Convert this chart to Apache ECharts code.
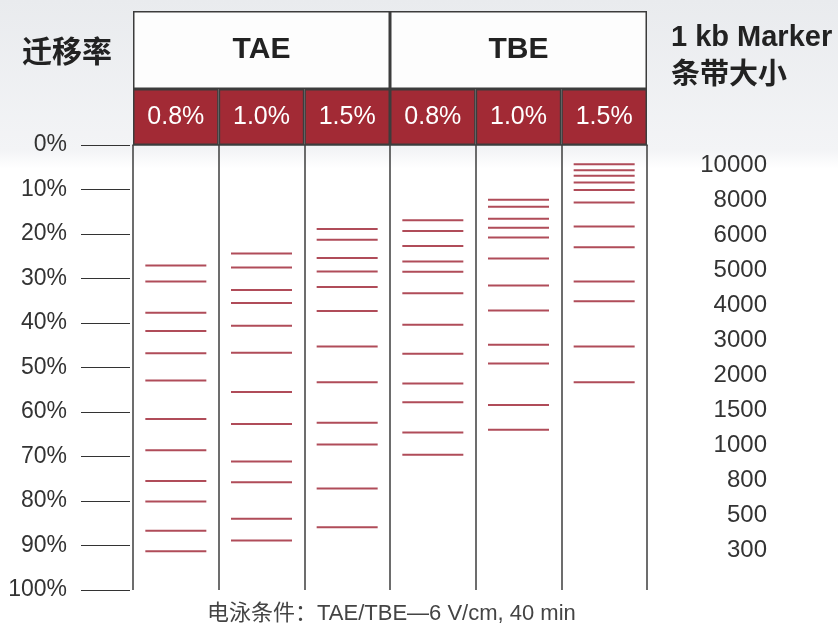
<!DOCTYPE html>
<html>
<head>
<meta charset="utf-8">
<script src="https://cdn.jsdelivr.net/npm/echarts@6/dist/echarts.min.js"></script>
<style>
  html, body { margin: 0; padding: 0; }
  #chart { width: 838px; height: 624px; }
</style>
</head>
<body>
<div id="chart"></div>
<script>
// 缓冲液 / 胶浓度
var buffers = ["TAE", "TBE"];
var gelConc = ["0.8%", "1.0%", "1.5%", "0.8%", "1.0%", "1.5%"];
var lanes = ["TAE 0.8%", "TAE 1.0%", "TAE 1.5%", "TBE 0.8%", "TBE 1.0%", "TBE 1.5%"];
// 1 kb Marker 条带大小 (bp)
var markerSizes = ["10000", "8000", "6000", "5000", "4000", "3000", "2000", "1500", "1000", "800", "500", "300"];
// 迁移率 (%)，每条泳道 12 条带，从大到小
var tae08 = [27.1, 30.7, 37.7, 41.8, 46.8, 52.9, 61.6, 68.6, 75.5, 80.1, 86.7, 91.3];
var tae10 = [24.4, 27.5, 32.6, 35.5, 40.6, 46.7, 55.5, 62.7, 71.1, 75.8, 84.0, 88.9];
var tae15 = [18.9, 21.3, 25.4, 28.4, 31.9, 37.3, 45.3, 53.3, 62.4, 67.3, 77.2, 85.9];
var tbe08 = [16.9, 19.3, 22.7, 26.2, 28.5, 33.3, 40.4, 46.9, 53.6, 57.8, 64.6, 69.6];
var tbe10 = [12.3, 13.9, 16.6, 18.6, 20.8, 25.5, 31.6, 37.2, 44.9, 49.1, 58.4, 64.0];
var tbe15 = [4.3, 5.7, 6.9, 8.4, 10.1, 12.9, 18.3, 23.0, 30.7, 35.1, 45.3, 53.3];

var laneData = [tae08, tae10, tae15, tbe08, tbe10, tbe15];
var bands = [];
laneData.forEach(function (arr, i) {
  arr.forEach(function (v, j) {
    bands.push({ value: [i, v], name: markerSizes[j] });
  });
});

var font = "'Liberation Sans', Arial, 'Noto Sans CJK SC', sans-serif";
var red = "#a22a35";
var border = "#3c3c3c";

var myChart = echarts.init(document.getElementById("chart"));
myChart.setOption({
  animation: false,
  backgroundColor: {
    type: "linear", x: 0, y: 0, x2: 0, y2: 1,
    colorStops: [
      { offset: 0, color: "#e9ebee" },
      { offset: 0.24, color: "#f3f4f6" },
      { offset: 0.27, color: "#ffffff" },
      { offset: 1, color: "#ffffff" }
    ]
  },
  textStyle: { fontFamily: font },
  title: [
    {
      text: "迁移率", left: 17, top: 34,
      textStyle: { fontSize: 30, fontWeight: "bold", color: "#222", fontFamily: font }
    },
    {
      text: "1 kb Marker\n条带大小", left: 666, top: 14,
      textStyle: { fontSize: 29, fontWeight: "bold", color: "#222", lineHeight: 38, fontFamily: font }
    },
    {
      text: "电泳条件：TAE/TBE—6 V/cm, 40 min", left: 202, top: 598,
      textStyle: { fontSize: 22, fontWeight: "normal", color: "#444", fontFamily: font }
    }
  ],
  grid: [
    { left: 133, right: 191, top: 145, bottom: 34 },   // 胶
    { left: 133, right: 191, top: 89, height: 56 },    // 浓度行
    { left: 133, right: 191, top: 11, height: 78 },    // 缓冲液行
    { left: 770, width: 10, top: 148, height: 420 }    // marker 标签
  ],
  xAxis: [
    {
      gridIndex: 0, type: "category", data: lanes,
      axisLabel: { show: false }, axisTick: { show: false },
      axisLine: { show: true, lineStyle: { color: border, width: 1.5 } },
      splitLine: { show: true, lineStyle: { color: border, width: 1.5 } }
    },
    {
      gridIndex: 1, type: "category", data: lanes,
      axisLabel: { show: false }, axisTick: { show: false }, axisLine: { show: false }
    },
    {
      gridIndex: 2, type: "category", data: buffers,
      axisLabel: { show: false }, axisTick: { show: false }, axisLine: { show: false }
    },
    { gridIndex: 3, type: "value", show: false }
  ],
  yAxis: [
    {
      gridIndex: 0, type: "value", min: 0, max: 100, interval: 10, inverse: true,
      offset: 3,
      axisLine: { show: false },
      axisTick: { show: true, length: 49, lineStyle: { color: "#333", width: 1 } },
      axisLabel: { formatter: "{value}%", fontSize: 23, color: "#333", margin: 63 },
      splitLine: { show: false }
    },
    { gridIndex: 1, type: "value", min: 0, max: 1, show: false },
    { gridIndex: 2, type: "value", min: 0, max: 1, show: false },
    {
      gridIndex: 3, type: "category", data: markerSizes, inverse: true,
      axisLine: { show: false }, axisTick: { show: false },
      axisLabel: { fontSize: 24, color: "#333", margin: 3 }
    }
  ],
  series: [
    {
      type: "scatter", xAxisIndex: 0, yAxisIndex: 0,
      symbol: "rect", symbolSize: [61, 2],
      itemStyle: { color: "#9c1f30" },
      silent: true,
      data: bands
    },
    {
      type: "bar", xAxisIndex: 1, yAxisIndex: 1,
      barWidth: "100%", silent: true,
      itemStyle: { color: red, borderColor: border, borderWidth: 1.5 },
      label: {
        show: true, position: "inside", color: "#fff", fontSize: 25,
        formatter: function (p) { return gelConc[p.dataIndex]; }
      },
      data: gelConc.map(function () { return 1; })
    },
    {
      type: "bar", xAxisIndex: 2, yAxisIndex: 2,
      barWidth: "100%", silent: true,
      itemStyle: { color: "#fdfdfd", borderColor: border, borderWidth: 1.5 },
      label: {
        show: true, position: "inside", color: "#222", fontSize: 30, fontWeight: "bold",
        formatter: function (p) { return buffers[p.dataIndex]; }
      },
      data: buffers.map(function () { return 1; })
    }
  ]
});
window.addEventListener("resize", function () {
  myChart.resize();
});
</script>
</body>
</html>
